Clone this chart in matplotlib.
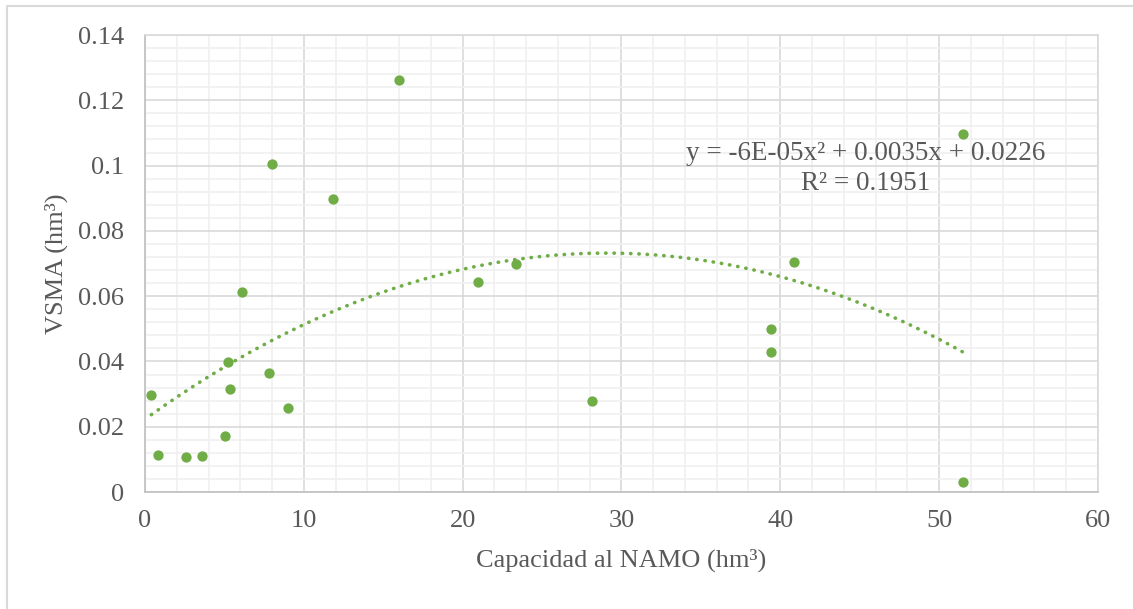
import numpy as np
import matplotlib
matplotlib.use("Agg")
import matplotlib.pyplot as plt
from matplotlib.ticker import MultipleLocator
from matplotlib.lines import Line2D

# Capacidad al NAMO (hm3) vs VSMA (hm3)
capacidad = [0.40, 0.82, 2.60, 3.58, 5.03, 5.20, 5.35, 6.12, 7.78, 7.99, 8.99,
             11.82, 15.97, 20.94, 23.33, 28.16, 39.43, 39.43, 40.84, 51.5, 51.5]
vsma = [0.0297, 0.0114, 0.0107, 0.0111, 0.0171, 0.0398, 0.0315, 0.0613, 0.0365,
        0.1005, 0.0256, 0.0898, 0.1261, 0.0645, 0.0698, 0.0280, 0.0498, 0.0429,
        0.0705, 0.1096, 0.0030]

eq_text = "y = -6E-05x² + 0.0035x + 0.0226"
r2_text = "R² = 0.1951"

green = "#70AD47"
grey_txt = "#595959"

plt.rcParams['font.family'] = ['Liberation Serif', 'DejaVu Serif']

fig = plt.figure(figsize=(11.33, 6.09), dpi=100)
ax = fig.add_axes([0.128, 0.192, 0.841, 0.7505])

# outer chart border (only left and top edges fall inside the picture)
fig.lines.append(Line2D([0.0065, 0.0065, 1.0], [0.0, 0.990, 0.990],
                        transform=fig.transFigure, color="#D9D9D9", linewidth=1.5))

ax.scatter(capacidad, vsma, s=55, color=green, zorder=3, linewidths=0)

# polynomial (order 2) trendline
coef = np.polyfit(capacidad, vsma, 2)
xs = np.linspace(min(capacidad), max(capacidad), 300)
ax.plot(xs, np.polyval(coef, xs), color=green, linewidth=2.6,
        linestyle=(0, (0.1, 2.2)), dash_capstyle="round", zorder=2)

ax.text(45.4, 0.1038, eq_text, ha="center", va="center", fontsize=19.5, color=grey_txt)
ax.text(45.4, 0.0944, r2_text, ha="center", va="center", fontsize=19.5, color=grey_txt)

ax.set_xlim(0, 60)
ax.set_ylim(0, 0.14)
ax.xaxis.set_major_locator(MultipleLocator(10))
ax.xaxis.set_minor_locator(MultipleLocator(2))
ax.yaxis.set_minor_locator(MultipleLocator(0.004))
ax.set_yticks(np.arange(0, 0.141, 0.02))
ax.set_yticklabels(["0", "0.02", "0.04", "0.06", "0.08", "0.1", "0.12", "0.14"])

ax.grid(which="major", color="#D9D9D9", linewidth=1.2)
ax.grid(which="minor", color="#F0F0F0", linewidth=1.2)
ax.set_axisbelow(True)
for sp in ax.spines.values():
    sp.set_color("#D9D9D9")
    sp.set_linewidth(1.2)
ax.spines["left"].set_color("#BFBFBF")
ax.spines["bottom"].set_color("#BFBFBF")

ax.tick_params(which="both", length=0, labelsize=19, labelcolor=grey_txt)
ax.tick_params(axis="y", pad=15)
ax.tick_params(axis="x", pad=13)

ax.set_xlabel("Capacidad al NAMO (hm³)", fontsize=19, color=grey_txt, labelpad=12)
ax.set_ylabel("VSMA (hm³)", fontsize=19, color=grey_txt, labelpad=7)

fig.savefig("out.png", dpi=100)
